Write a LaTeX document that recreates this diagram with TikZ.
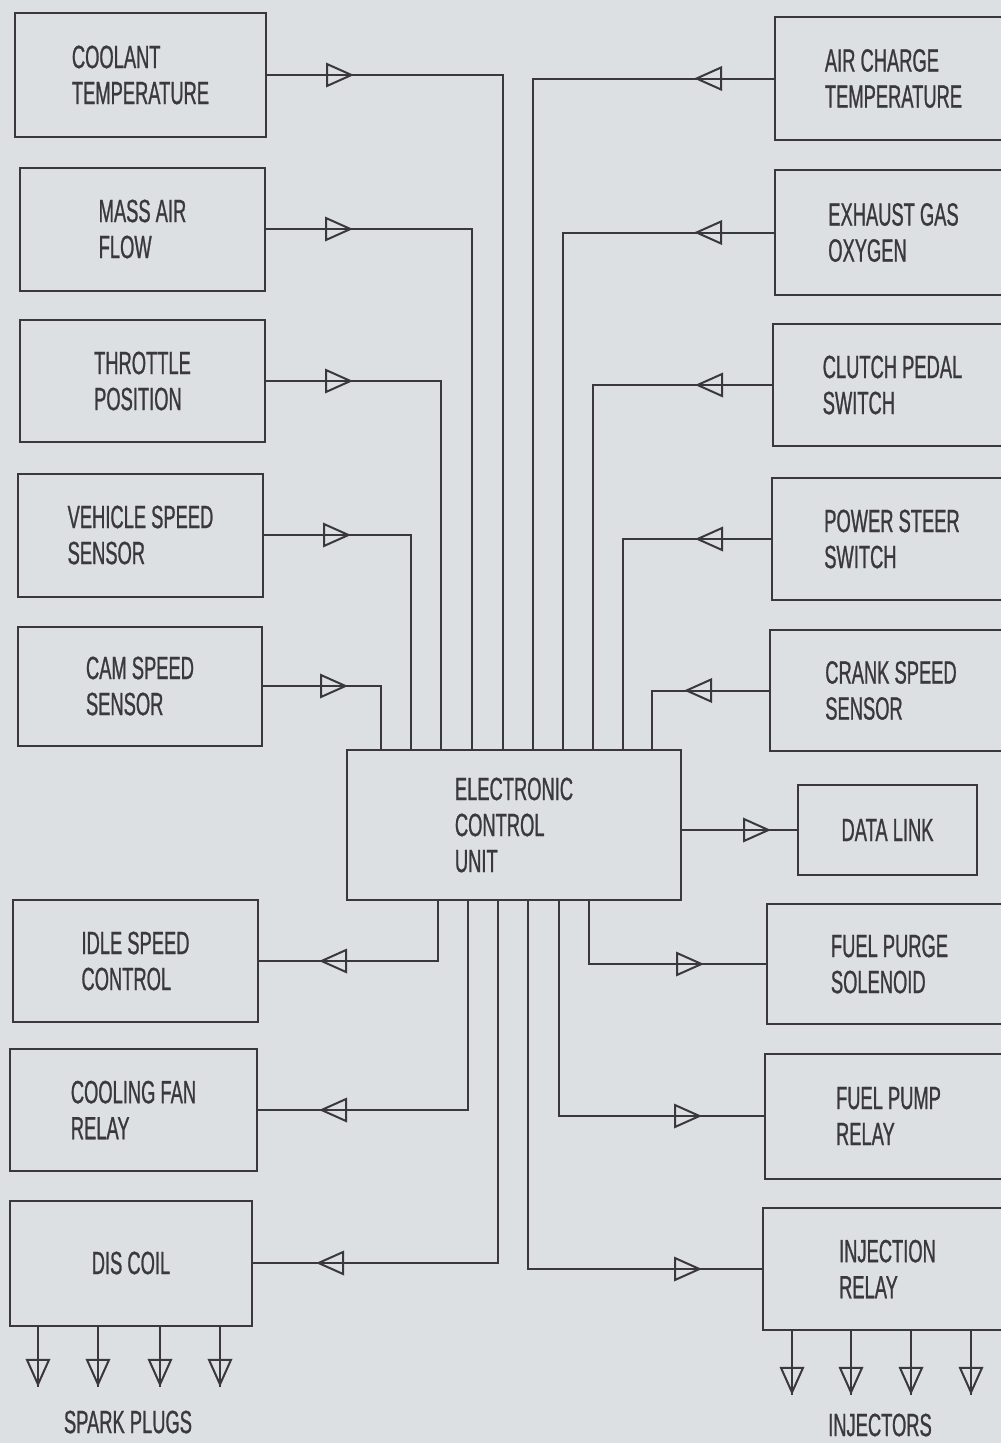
\documentclass[tikz,border=0pt]{standalone}
\usepackage{fontspec}
\newfontfamily\plotfont[FakeStretch=0.57,FakeBold=0.8]{Liberation Sans}
\usetikzlibrary{arrows.meta,decorations.markings}
\definecolor{paper}{RGB}{221,224,227}
\definecolor{ink}{RGB}{58,56,60}

\begin{document}
\begin{tikzpicture}[x=0.2mm,y=-0.2mm,
  box/.style 2 args={draw=ink,line width=0.4mm,minimum width=#1*0.2mm,
    minimum height=#2*0.2mm,align=left,text=ink,inner sep=0pt},
  wire/.style={draw=ink,line width=0.4mm},
  tipat/.style={postaction={decorate,decoration={markings,
    mark=at position #1*0.2mm with {\arrow{Triangle[open,length=5.6mm,width=4.9mm]}}}}},
  every node/.style={font=\plotfont\fontsize{18.3}{20.5}\selectfont,text=ink}]
  % Paper
  \useasboundingbox (0,0) rectangle (1001,1443);
  \fill[paper] (0,0) rectangle (1001,1443);
  \clip (0,0) rectangle (1001,1443);

  % Control unit
  \node[box={334}{150}] (ecu) at (514,825) {ELECTRONIC\\CONTROL\\UNIT};

  % Sensors, left
  \node[box={251}{124}] (cool) at (140.5,75)  {COOLANT\\TEMPERATURE};
  \node[box={245}{123}] (maf)  at (142.5,229) {MASS AIR\\FLOW};
  \node[box={245}{122}] (tps)  at (142.5,381) {THROTTLE\\POSITION};
  \node[box={245}{123}] (vss)  at (140.5,535) {VEHICLE SPEED\\SENSOR};
  \node[box={244}{119}] (cam)  at (140,686)   {CAM SPEED\\SENSOR};

  % Sensors, right
  \node[box={237}{123}] (act) at (893.5,78.5) {AIR CHARGE\\TEMPERATURE};
  \node[box={237}{125}] (ego) at (893.5,232.5) {EXHAUST GAS\\OXYGEN};
  \node[box={239}{122}] (cps) at (892.5,385) {CLUTCH PEDAL\\SWITCH};
  \node[box={240}{122}] (pss) at (892,539)   {POWER STEER\\SWITCH};
  \node[box={242}{121}] (cks) at (891,690.5) {CRANK SPEED\\SENSOR};

  % Outputs
  \node[box={179}{90}]  (dl)  at (887.5,830) {DATA LINK};
  \node[box={245}{122}] (isc) at (135.5,961) {IDLE SPEED\\CONTROL};
  \node[box={247}{122}] (fan) at (133.5,1110) {COOLING FAN\\RELAY};
  \node[box={242}{125}] (dis) at (131,1263)  {DIS COIL};
  \node[box={245}{120}] (fps) at (889.5,964) {FUEL PURGE\\SOLENOID};
  \node[box={247}{125}] (fpr) at (888.5,1116) {FUEL PUMP\\RELAY};
  \node[box={249}{122}] (inj) at (887.5,1269) {INJECTION\\RELAY};

  % Inputs into the top of the unit
  \draw[wire,tipat=87] (cool.east) -| (503,0 |- ecu.north);
  \draw[wire,tipat=87] (maf.east)  -| (472,0 |- ecu.north);
  \draw[wire,tipat=87] (tps.east)  -| (441,0 |- ecu.north);
  \draw[wire,tipat=87] (vss.east)  -| (411,0 |- ecu.north);
  \draw[wire,tipat=85] (cam.east)  -| (381,0 |- ecu.north);
  \draw[wire,tipat=80] (act.west)  -| (533,0 |- ecu.north);
  \draw[wire,tipat=80] (ego.west)  -| (563,0 |- ecu.north);
  \draw[wire,tipat=77] (cps.west)  -| (593,0 |- ecu.north);
  \draw[wire,tipat=76] (pss.west)  -| (623,0 |- ecu.north);
  \draw[wire,tipat=85] (cks.west)  -| (652,0 |- ecu.north);

  % Outputs from the bottom of the unit
  \draw[wire,tipat=-60] (438,0 |- ecu.south) |- (isc.east);
  \draw[wire,tipat=-61] (468,0 |- ecu.south) |- (fan.east);
  \draw[wire,tipat=-63] (498,0 |- ecu.south) |- (dis.east);
  \draw[wire,tipat=-60] (528,0 |- ecu.south) |- (inj.west);
  \draw[wire,tipat=-62] (559,0 |- ecu.south) |- (fpr.west);
  \draw[wire,tipat=-62] (589,0 |- ecu.south) |- (fps.west);
  \draw[wire,tipat=-26] (ecu.east |- dl.west) -- (dl.west);

  % Spark plugs
  \coordinate (sp1) at (38,1387);
  \coordinate (sp2) at (98,1387);
  \coordinate (sp3) at (160,1387);
  \coordinate (sp4) at (220,1387);
  \draw[wire,tipat=-0.1] (sp1 |- dis.south) -- (sp1);
  \draw[wire,tipat=-0.1] (sp2 |- dis.south) -- (sp2);
  \draw[wire,tipat=-0.1] (sp3 |- dis.south) -- (sp3);
  \draw[wire,tipat=-0.1] (sp4 |- dis.south) -- (sp4);
  \node (spl) at (128,1422) {SPARK PLUGS};

  % Injectors
  \coordinate (in1) at (792,1395);
  \coordinate (in2) at (851,1395);
  \coordinate (in3) at (911,1395);
  \coordinate (in4) at (971,1395);
  \draw[wire,tipat=-0.1] (in1 |- inj.south) -- (in1);
  \draw[wire,tipat=-0.1] (in2 |- inj.south) -- (in2);
  \draw[wire,tipat=-0.1] (in3 |- inj.south) -- (in3);
  \draw[wire,tipat=-0.1] (in4 |- inj.south) -- (in4);
  \node (injl) at (880,1425) {INJECTORS};
\end{tikzpicture}
\end{document}
